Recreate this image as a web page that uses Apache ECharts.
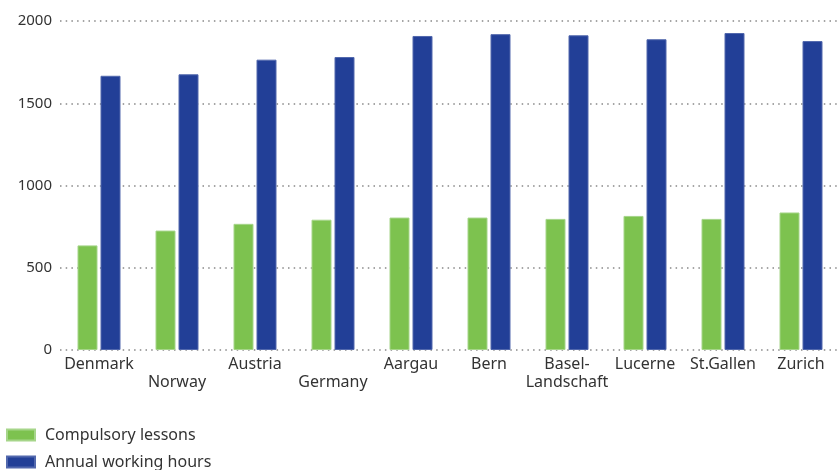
<!DOCTYPE html>
<html>
<head>
<meta charset="utf-8">
<script src="https://cdn.jsdelivr.net/npm/echarts@6/dist/echarts.min.js"></script>
<style>html,body{margin:0;padding:0;background:#fff;}#c{width:840px;height:470px;}</style>
</head>
<body>
<div id="c"></div>
<script>
const categories = ["Denmark", "\nNorway", "Austria", "\nGermany", "Aargau", "Bern", "Basel-\nLandschaft", "Lucerne", "St.Gallen", "Zurich"];
const compulsoryLessons = [636, 726, 767, 792, 805, 805, 797, 815, 797, 836];
const annualWorkingHours = [1667, 1676, 1765, 1781, 1909, 1920, 1913, 1889, 1927, 1878];
const seriesNames = ["Compulsory lessons", "Annual working hours"];

const chart = echarts.init(document.getElementById('c'), null, {renderer: 'canvas'});
const font = '"Noto Sans", sans-serif';
chart.setOption({
  animation: false,
  textStyle: {fontFamily: font},
  grid: {left: 60, top: 21, bottom: 120, width: 789, containLabel: false},
  legend: {
    orient: 'vertical', left: 6, top: 427, height: 60, itemWidth: 28, itemHeight: 11, itemGap: 11,
    icon: 'rect', padding: 0,
    textStyle: {fontSize: 16, color: '#333', fontFamily: font, lineHeight: 16, padding: [0, 0, 0, 5]},
    data: seriesNames
  },
  xAxis: {
    type: 'category', data: categories,
    axisLine: {show: false}, axisTick: {show: false},
    axisLabel: {fontSize: 16, color: '#333', margin: 5, lineHeight: 18, interval: 0, fontFamily: font}
  },
  yAxis: {
    type: 'value', min: 0, max: 2000, interval: 500,
    axisLine: {show: false}, axisTick: {show: false},
    axisLabel: {fontSize: 15, color: '#333', margin: 8, fontFamily: font, formatter: v => String(v)},
    splitLine: {lineStyle: {type: [1.5, 4.2], color: '#888', width: 1.5}}
  },
  series: [
    {name: seriesNames[0], type: 'bar', data: compulsoryLessons, barWidth: 20, barGap: '15%',
     itemStyle: {color: '#7DC24F', borderColor: '#A6D58A', borderWidth: 1}},
    {name: seriesNames[1], type: 'bar', data: annualWorkingHours, barWidth: 20, barGap: '15%',
     itemStyle: {color: '#223F97', borderColor: '#5268AD', borderWidth: 1}}
  ]
});
</script>
</body>
</html>
